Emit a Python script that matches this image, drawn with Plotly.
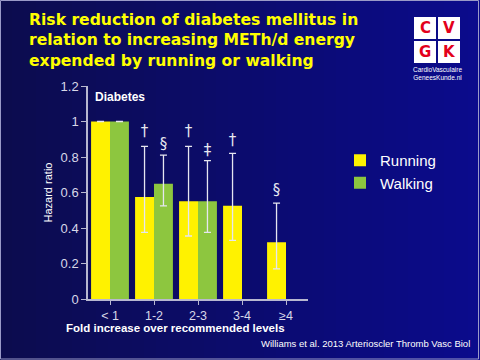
import plotly.graph_objects as go

categories = ["< 1", "1-2", "2-3", "3-4", "≥4"]
running = [1.0, 0.575, 0.55, 0.525, 0.32]
running_upper = [None, 0.86, 0.86, 0.82, 0.54]
running_lower = [None, 0.375, 0.355, 0.33, 0.17]
running_sig = ["", "†", "†", "†", "§"]
running_sig_y = [None, 0.937, 0.937, 0.886, 0.605]

walking = [1.0, 0.65, 0.55, None, None]
walking_upper = [None, 0.81, 0.78, None, None]
walking_lower = [None, 0.525, 0.375, None, None]
walking_sig = ["", "§", "‡", "", ""]
walking_sig_y = [None, 0.868, 0.83, None, None]

xs = list(range(len(categories)))
BARW = 0.43

L, R, T, B = 88, 172, 86, 61
W = 480 - L - R
H = 360 - T - B


def px(x):
    return (x - L) / W


def py(y):
    return (360 - B - y) / H


def err(vals, up, lo):
    plus = [(u - v) if (u is not None and v is not None) else 0 for v, u in zip(vals, up)]
    minus = [(v - l) if (l is not None and v is not None) else 0 for v, l in zip(vals, lo)]
    return plus, minus


rp, rm = err(running, running_upper, running_lower)
wp, wm = err(walking, walking_upper, walking_lower)

fig = go.Figure()
fig.add_trace(go.Bar(
    x=xs, y=running, name="Running", marker=dict(color="#FFF200", line=dict(width=0)),
    error_y=dict(type="data", symmetric=False, array=rp, arrayminus=rm,
                 color="#e6e6f0", thickness=1.3, width=3.5),
))
fig.add_trace(go.Bar(
    x=xs, y=walking, name="Walking", marker=dict(color="#8DC63F", line=dict(width=0)),
    error_y=dict(type="data", symmetric=False, array=wp, arrayminus=wm,
                 color="#e6e6f0", thickness=1.3, width=3.5),
))
fig.add_trace(go.Scatter(
    x=[x - BARW / 2 for x in xs], y=running_sig_y, text=running_sig, mode="text",
    textfont=dict(color="#e8e8f0", size=15, family="DejaVu Sans"), showlegend=False, hoverinfo="skip",
))
fig.add_trace(go.Scatter(
    x=[x + BARW / 2 for x in xs], y=walking_sig_y, text=walking_sig, mode="text",
    textfont=dict(color="#e8e8f0", size=15, family="DejaVu Sans"), showlegend=False, hoverinfo="skip",
))

axis_col = "#b8b8d0"
fig.update_layout(
    width=480, height=360,
    margin=dict(l=L, r=R, t=T, b=B, autoexpand=False),
    paper_bgcolor="#0b0b6a", plot_bgcolor="rgba(0,0,0,0)",
    barmode="group", bargap=0.14, bargroupgap=0,
    font=dict(family="Liberation Sans, Arial", color="#e0e0ee"),
    showlegend=True,
    legend=dict(x=px(340), y=py(144), xanchor="left", yanchor="top", bgcolor="rgba(0,0,0,0)",
                font=dict(size=15, color="#ffffff", family="Liberation Sans, Arial"),
                tracegroupgap=6, itemwidth=30),
    xaxis=dict(range=[-0.5, 4.5], tickvals=xs, ticktext=categories, showgrid=False,
               zeroline=False, showline=True, linecolor=axis_col, linewidth=1.5,
               ticks="outside", ticklen=4, tickcolor=axis_col,
               tickfont=dict(size=12.5, color="#d8d8e8")),
    yaxis=dict(range=[0, 1.2], dtick=0.2, showgrid=False, zeroline=False,
               showline=True, linecolor=axis_col, linewidth=1.5,
               ticks="outside", ticklen=5, tickcolor=axis_col,
               tickfont=dict(size=13, color="#d8d8e8"),
               title=dict(text="Hazard ratio", standoff=6,
                          font=dict(size=11, color="#ffffff", family="Liberation Sans, Arial"))),
)

# background gradient (decoration)
N = 40
c0 = (12, 12, 78)
c1 = (11, 11, 140)
for i in range(N):
    t = i / (N - 1)
    col = "rgb(%d,%d,%d)" % tuple(round(a + (b - a) * t) for a, b in zip(c0, c1))
    fig.add_shape(type="rect", xref="paper", yref="paper", layer="below",
                  x0=px(480 * i / N), x1=px(480 * (i + 1) / N + 0.5), y0=py(360), y1=py(0),
                  fillcolor=col, line=dict(width=0))
fig.add_shape(type="rect", xref="paper", yref="paper", layer="below",
              x0=px(0.5), x1=px(478.5), y0=py(359), y1=py(0.5),
              fillcolor="rgba(0,0,0,0)", line=dict(color="#9a9ac8", width=1))

# Title
fig.add_annotation(
    xref="paper", yref="paper", x=px(27), y=py(9), xanchor="left", yanchor="top",
    text="Risk reduction of diabetes mellitus in<br>relation to increasing METh/d energy<br>expended by running or walking",
    showarrow=False, align="left",
    font=dict(family="DejaVu Sans", size=15.6, color="#FFFF00", weight="bold"),
)
# Diabetes label
fig.add_annotation(xref="paper", yref="paper", x=px(93), y=py(88), xanchor="left", yanchor="top",
                   text="<b>Diabetes</b>", showarrow=False,
                   font=dict(size=12, color="#ffffff", family="Liberation Sans, Arial"))
# x-axis title
fig.add_annotation(xref="paper", yref="paper", x=px(64), y=py(320), xanchor="left", yanchor="top",
                   text="<b>Fold increase over recommended levels</b>", showarrow=False,
                   font=dict(size=11.5, color="#ffffff", family="Liberation Sans, Arial"))
# citation
fig.add_annotation(xref="paper", yref="paper", x=px(472), y=py(336), xanchor="right", yanchor="top",
                   text="Williams et al. 2013 Arterioscler Thromb Vasc Biol", showarrow=False,
                   font=dict(size=9.5, color="#ffffff", family="Liberation Sans, Arial"))

# Logo
boxes = [(414, 17, "C"), (438, 17, "V"), (414, 41, "G"), (438, 41, "K")]
for bx, by, letter in boxes:
    fig.add_shape(type="rect", xref="paper", yref="paper",
                  x0=px(bx), x1=px(bx + 22), y0=py(by + 22), y1=py(by),
                  fillcolor="#ffffff", line=dict(color="#ffffff", width=0), layer="above")
    fig.add_annotation(xref="paper", yref="paper", x=px(bx + 11), y=py(by + 11),
                       xanchor="center", yanchor="middle",
                       text=f"<b>{letter}</b>", showarrow=False,
                       font=dict(size=15, color="#E3001B", family="DejaVu Sans"))
fig.add_annotation(xref="paper", yref="paper", x=px(437), y=py(64),
                   xanchor="center", yanchor="top",
                   text="CardioVasculaire<br>GeneesKunde.nl", showarrow=False, align="center",
                   font=dict(size=6.5, color="#ffffff", family="Liberation Sans Narrow, Liberation Sans"))

fig.write_html("out.html", post_script="document.body.style.margin='0';",
               config={"displayModeBar": False})
